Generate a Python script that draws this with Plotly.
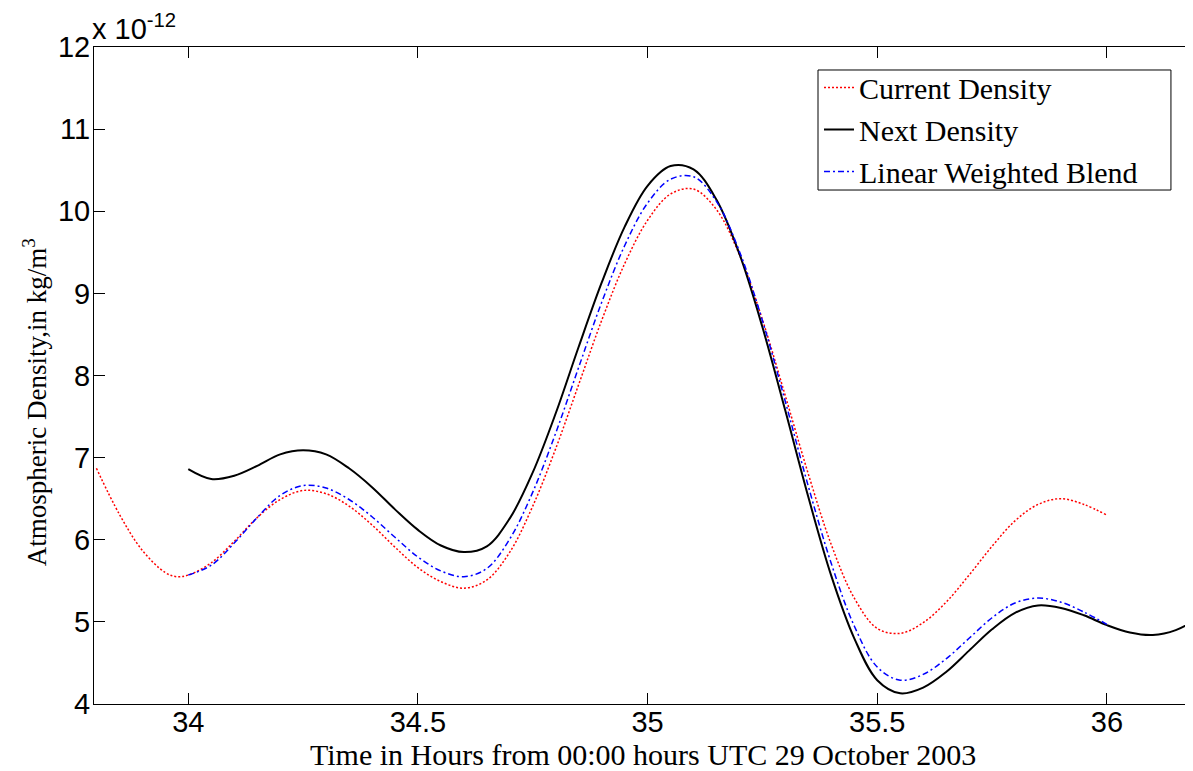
import plotly.graph_objects as go

# Hours from 00:00 UTC 29 Oct 2003
hours_current = [33.80, 33.85, 33.90, 33.95, 33.975, 34.00, 34.05, 34.10, 34.15, 34.20, 34.25,
                 34.30, 34.35, 34.40, 34.45, 34.50, 34.55, 34.60, 34.65, 34.70, 34.75,
                 34.80, 34.85, 34.90, 34.95, 35.00, 35.05, 35.10, 35.15, 35.20, 35.25,
                 35.30, 35.35, 35.40, 35.45, 35.50, 35.55, 35.60, 35.65, 35.70, 35.75,
                 35.80, 35.85, 35.90, 35.95, 36.00]
# density in units of 1e-12 kg/m^3
current_density = [6.87, 6.31, 5.87, 5.60, 5.55, 5.57, 5.72, 5.98, 6.27, 6.49, 6.60,
                   6.56, 6.41, 6.18, 5.91, 5.66, 5.49, 5.41, 5.51, 5.85, 6.41,
                   7.11, 7.89, 8.67, 9.36, 9.89, 10.21, 10.27, 10.02, 9.47, 8.68,
                   7.75, 6.80, 5.94, 5.29, 4.92, 4.86, 4.99, 5.24, 5.57, 5.92,
                   6.23, 6.43, 6.50, 6.43, 6.30]

hours_next = [34.00, 34.05, 34.10, 34.15, 34.20, 34.25, 34.30, 34.35, 34.40, 34.45, 34.50,
              34.55, 34.60, 34.65, 34.70, 34.75, 34.80, 34.85, 34.90, 34.95, 35.00,
              35.05, 35.10, 35.15, 35.20, 35.25, 35.30, 35.35, 35.40, 35.45, 35.50,
              35.55, 35.60, 35.65, 35.70, 35.75, 35.80, 35.85, 35.90, 35.95, 36.00,
              36.05, 36.10, 36.15, 36.20]
next_density = [6.86, 6.74, 6.78, 6.90, 7.04, 7.09, 7.04, 6.87, 6.64, 6.37, 6.12,
                5.93, 5.85, 5.92, 6.26, 6.82, 7.54, 8.35, 9.13, 9.81, 10.31,
                10.55, 10.51, 10.14, 9.48, 8.59, 7.57, 6.52, 5.56, 4.80, 4.29,
                4.13, 4.20, 4.39, 4.65, 4.91, 5.11, 5.20, 5.17, 5.08, 4.96,
                4.87, 4.84, 4.90, 5.05]

hours_blend = [34.00, 34.05, 34.10, 34.15, 34.20, 34.25, 34.30, 34.35, 34.40, 34.45, 34.50,
               34.55, 34.60, 34.65, 34.70, 34.75, 34.80, 34.85, 34.90, 34.95, 35.00,
               35.05, 35.10, 35.15, 35.20, 35.25, 35.30, 35.35, 35.40, 35.45, 35.50,
               35.55, 35.60, 35.65, 35.70, 35.75, 35.80, 35.85, 35.90, 35.95, 36.00]
blend_density = [5.57, 5.69, 5.96, 6.27, 6.54, 6.66, 6.63, 6.49, 6.28, 6.03, 5.79,
                 5.62, 5.55, 5.65, 6.01, 6.58, 7.30, 8.10, 8.89, 9.58, 10.10,
                 10.39, 10.42, 10.12, 9.51, 8.67, 7.68, 6.65, 5.71, 4.95, 4.45,
                 4.29, 4.36, 4.55, 4.80, 5.05, 5.23, 5.29, 5.24, 5.12, 4.97]

x_ticks = [34, 34.5, 35, 35.5, 36]
x_tick_labels = ["34", "34.5", "35", "35.5", "36"]
y_ticks = [4, 5, 6, 7, 8, 9, 10, 11, 12]
y_tick_labels = ["4", "5", "6", "7", "8", "9", "10", "11", "12"]

X_RANGE = [33.7947, 36.1984]
Y_RANGE = [4, 12]

fig = go.Figure()
fig.add_trace(go.Scatter(x=hours_current, y=current_density, mode="lines",
                         name="Current Density", line_shape="spline",
                         line=dict(color="#ff0000", width=1.5, dash="2px,2px")))
fig.add_trace(go.Scatter(x=hours_next, y=next_density, mode="lines",
                         name="Next Density", line_shape="spline",
                         line=dict(color="#000000", width=2)))
fig.add_trace(go.Scatter(x=hours_blend, y=blend_density, mode="lines",
                         name="Linear Weighted Blend", line_shape="spline",
                         line=dict(color="#0000ff", width=1.5, dash="6px,3px,2px,3px")))

serif = "Liberation Serif, Times New Roman, serif"
sans = "Liberation Sans, Arial, sans-serif"
tick_font = dict(family=sans, size=29, color="black")

fig.update_layout(
    width=1193, height=771,
    margin=dict(l=86, r=3, t=39, b=75),
    paper_bgcolor="white", plot_bgcolor="white",
    showlegend=True,
    legend=dict(x=0.6567, y=0.978, xanchor="left", yanchor="top",
                bgcolor="rgba(0,0,0,0)", borderwidth=0,
                font=dict(family=serif, size=30, color="black"),
                tracegroupgap=0, itemwidth=30),
    xaxis=dict(range=X_RANGE, tickvals=x_ticks, ticktext=x_tick_labels,
               showgrid=False, zeroline=False, showline=True, linecolor="black", linewidth=1,
               mirror="ticks", ticks="inside", ticklen=11, tickcolor="black", tickwidth=1,
               tickfont=tick_font, ticklabelstandoff=-8),
    yaxis=dict(range=Y_RANGE, tickvals=y_ticks, ticktext=y_tick_labels,
               showgrid=False, zeroline=False, showline=True, linecolor="black", linewidth=1,
               mirror="ticks", ticks="inside", ticklen=11, tickcolor="black", tickwidth=1,
               tickfont=tick_font, ticklabelstandoff=-3),
)

# legend frame
fig.add_shape(type="rect", xref="paper", yref="paper", x0=0.6558, x1=0.9755, y0=0.7823, y1=0.965,
              line=dict(color="black", width=1), fillcolor="white", layer="above")

# axis titles
fig.add_annotation(text="Time in Hours from 00:00 hours UTC 29 October 2003",
                   xref="paper", yref="paper", x=0.4977, y=-0.0776,
                   xanchor="center", yanchor="middle", showarrow=False,
                   font=dict(family=serif, size=30, color="black"))
fig.add_annotation(text="Atmospheric Density,in kg/m<sup>3</sup>",
                   xref="paper", yref="paper", x=-0.054, y=0.460, textangle=-90,
                   xanchor="center", yanchor="middle", showarrow=False,
                   font=dict(family=serif, size=27, color="black"))
# exponent label
fig.add_annotation(text="x 10<sup>-12</sup>", xref="paper", yref="paper",
                   x=0.0, y=1.0, xanchor="left", yanchor="bottom", showarrow=False, xshift=-4,
                   font=dict(family=sans, size=29, color="black"))

fig.write_html("out.html")
